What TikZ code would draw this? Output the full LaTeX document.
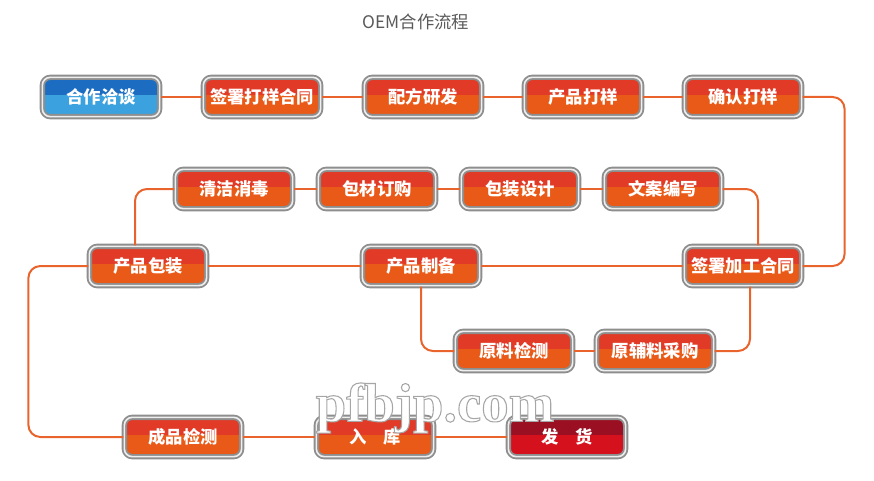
\documentclass[tikz,border=0pt]{standalone}
\usepackage{fontspec}
\usetikzlibrary{positioning,calc}
\newfontfamily\cjk{Noto Sans CJK SC}
\newfontfamily\wmfont{Liberation Serif}
\definecolor{cOrgTop}{HTML}{E13A26}
\definecolor{cOrgBot}{HTML}{E95A18}
\definecolor{cBluTop}{HTML}{1C6DC1}
\definecolor{cBluBot}{HTML}{3BA2DF}
\definecolor{cRedTop}{HTML}{9A0F22}
\definecolor{cRedBot}{HTML}{D5111D}
\definecolor{cRim}{HTML}{8E8E8E}
\definecolor{cGap}{HTML}{EFEFEF}
\definecolor{cLink}{HTML}{E8642C}
\definecolor{cTitle}{HTML}{595959}
\newcommand\outlined[1]{\textcolor{white}{\special{pdf:literal 2 Tr 0.65 G 0.8 w}#1\special{pdf:literal 0 Tr}}}

\begin{document}
\begin{tikzpicture}[x=0.75pt, y=-0.75pt,
    stepbox/.style 2 args={rounded corners=6pt, minimum width=88pt,
                  minimum height=29.5pt, inner sep=0pt, draw=cRim,
                  line width=1.4pt, double=cGap, double distance=1.2pt,
                  fill=#2, text=white,
                  font=\cjk\bfseries\fontsize{13}{13}\selectfont,
                  path picture={\fill[#1, sharp corners]
                    (path picture bounding box.north west) rectangle
                    ([yshift=1.5pt]path picture bounding box.east);}},
    orange/.style={stepbox={cOrgTop}{cOrgBot}},
    link/.style={draw=cLink, line width=1.5pt, rounded corners=9pt},
  ]
    \useasboundingbox (0,0) rectangle (874,481);
    \node[font=\cjk\fontsize{13}{13}\selectfont, text=cTitle] (title) at (416,22) {OEM合作流程};

    % --- row 1 -------------------------------------------------------------
    \node[stepbox={cBluTop}{cBluBot}] (hz) at (101,97) {合作洽谈};
    \node[orange] (qs) at (262,97) {签署打样合同};
    \node[orange] (pf) at (423,97) {配方研发};
    \node[orange] (cy) at (583,97) {产品打样};
    \node[orange] (qr) at (743,97) {确认打样};

    % --- row 2 -------------------------------------------------------------
    \node[orange] (qj) at (234,189) {清洁消毒};
    \node[orange] (bc) at (377,189) {包材订购};
    \node[orange] (bz) at (520,189) {包装设计};
    \node[orange] (wa) at (663,189) {文案编写};

    % --- row 3 -------------------------------------------------------------
    \node[orange] (pb) at (148,266) {产品包装};
    \node[orange] (zb) at (421,266) {产品制备};
    \node[orange] (jg) at (743,266) {签署加工合同};

    % --- row 4 -------------------------------------------------------------
    \node[orange] (yl) at (514,351) {原料检测};
    \node[orange] (fl) at (655,351) {原辅料采购};

    % --- row 5 -------------------------------------------------------------
    \node[orange] (cp) at (183,437) {成品检测};
    \node[orange] (rk) at (375,437) {入\quad 库};
    \node[stepbox={cRedTop}{cRedBot}] (fh) at (567,437) {发\quad 货};

    % --- connectors --------------------------------------------------------
    \draw[link] (hz) -- (qs); \draw[link] (qs) -- (pf);
    \draw[link] (pf) -- (cy); \draw[link] (cy) -- (qr);
    \draw[link] (qr.east) -- ++(42,0) |- (jg.east);
    \draw[link] (wa.east) -| ($(jg.north)+(15,0)$);
    \draw[link] (wa) -- (bz); \draw[link] (bz) -- (bc);
    \draw[link] (bc) -- (qj);
    \draw[link] (qj.west) -| ($(pb.north)+(-13,0)$);
    \draw[link] (jg) -- (zb); \draw[link] (zb) -- (pb);
    \draw[link] ($(jg.south)+(7,0)$) |- (fl.east);
    \draw[link] (fl) -- (yl);
    \draw[link] (yl.west) -| (zb.south);
    \draw[link] (pb.west) -- ++(-60,0) |- (cp.west);
    \draw[link] (cp) -- (rk); \draw[link] (rk) -- (fh);

    % --- watermark ---------------------------------------------------------
    \node[font=\wmfont\bfseries\fontsize{41}{41}\selectfont, inner sep=0pt] (wm) at (435,408)
      {\outlined{pfbjp.com}};
  \end{tikzpicture}
\end{document}
